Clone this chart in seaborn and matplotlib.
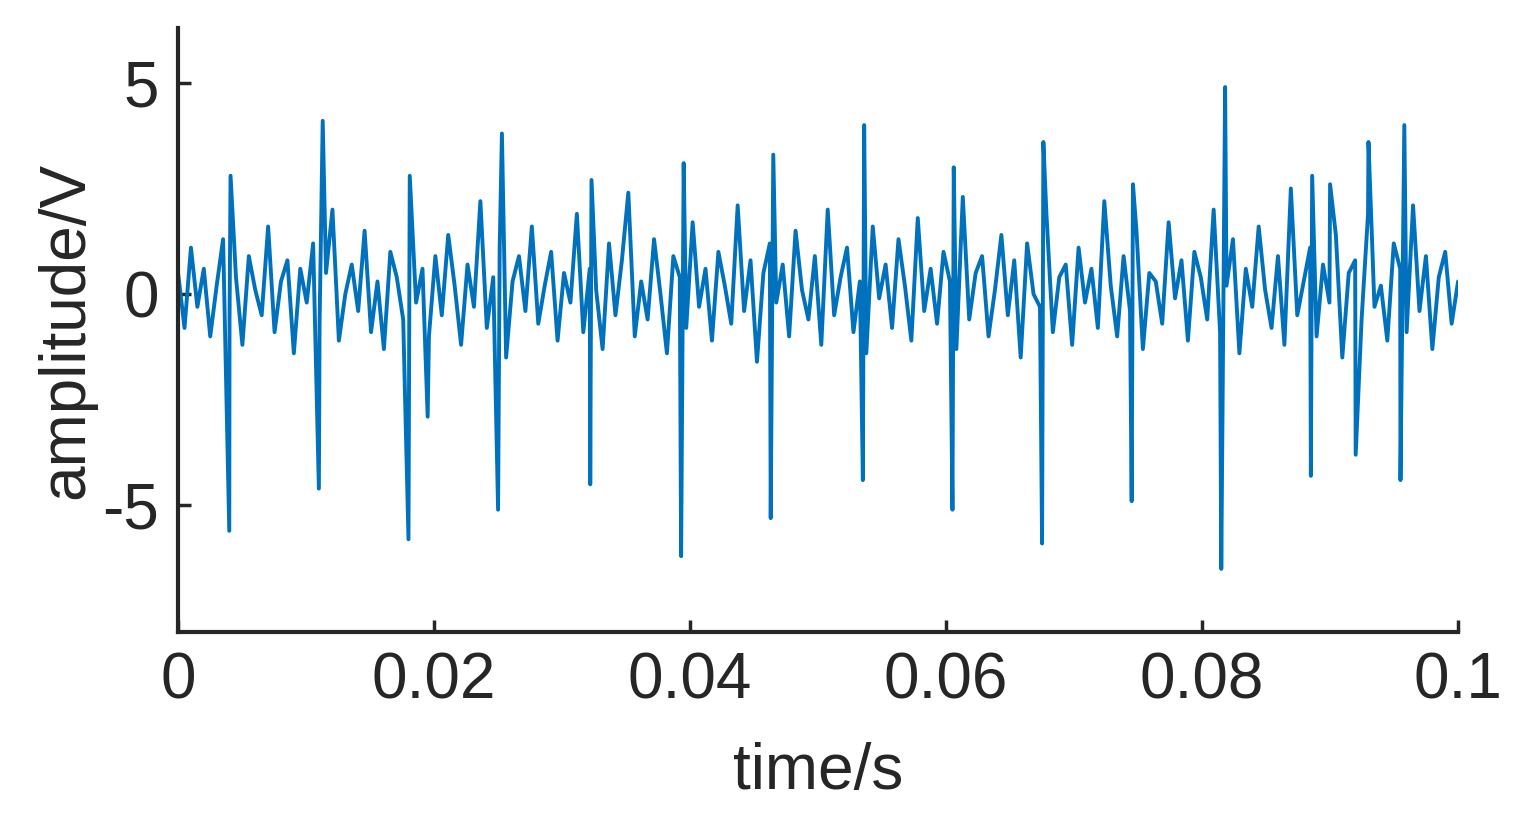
import matplotlib
matplotlib.use("Agg")
import matplotlib.pyplot as plt
import seaborn as sns
import numpy as np
import pandas as pd

# background vibration (hand-typed, evenly spaced over 0..0.1 s)
noise = [0.5, -0.8, 1.1, -0.3, 0.6, -1.0, 0.2, 1.3, -0.6, 0.4, -1.2, 0.9, 0.1, -0.5, 1.6, -0.9, 0.3, 0.8, -1.4, 0.6,
         -0.2, 1.2, -0.7, 0.5, 2.0, -1.1, 0.0, 0.7, -0.4, 1.5, -0.9, 0.3, -1.3, 1.0, 0.4, -0.6, 1.8, -0.2, 0.6, -1.0,
         0.9, -0.5, 1.4, 0.2, -1.2, 0.7, -0.3, 2.2, -0.8, 0.4, 1.1, -1.5, 0.3, 0.9, -0.4, 1.6, -0.7, 0.2, 1.0, -1.1,
         0.5, -0.2, 1.9, -0.9, 0.6, 0.1, -1.3, 1.2, -0.5, 0.8, 2.4, -1.0, 0.3, -0.6, 1.3, 0.0, -1.4, 0.9, 0.4, -0.8,
         1.7, -0.3, 0.6, -1.1, 1.0, 0.2, -0.7, 2.1, -0.4, 0.8, -1.6, 0.5, 1.2, -0.2, 0.7, -1.0, 1.5, 0.1, -0.6, 0.9,
         -1.2, 2.0, -0.5, 0.4, 1.1, -0.9, 0.3, -1.4, 1.6, -0.1, 0.7, -0.8, 1.3, 0.2, -1.1, 1.8, -0.4, 0.6, -0.7, 1.0,
         0.3, -1.3, 2.3, -0.6, 0.5, 0.9, -1.0, 0.1, 1.4, -0.5, 0.8, -1.5, 1.2, 0.0, -0.3, 1.9, -0.9, 0.4, 0.7, -1.2,
         1.1, -0.2, 0.6, -0.8, 2.2, 0.2, -1.0, 0.9, -0.4, 1.5, -1.3, 0.5, 0.3, -0.7, 1.7, -0.1, 0.8, -1.1, 1.0, 0.4,
         -0.6, 2.0, -0.9, 0.2, 1.3, -1.4, 0.6, -0.3, 1.6, 0.1, -0.8, 0.9, -1.2, 2.5, -0.5, 0.3, 1.1, -1.0, 0.7, -0.2,
         1.4, -1.5, 0.5, 0.8, -0.6, 1.9, -0.3, 0.2, -1.1, 1.2, 0.6, -0.9, 2.1, -0.4, 0.9, -1.3, 0.4, 1.0, -0.7, 0.3]
spike_t = [0.0040, 0.0041, 0.0110, 0.0113, 0.0180, 0.0181, 0.0195, 0.0250, 0.0253, 0.0322, 0.0323, 0.0393, 0.0395,
           0.0463, 0.0465, 0.0535, 0.0536, 0.0605, 0.0606, 0.0675, 0.0676, 0.0745, 0.0746, 0.0815, 0.0818, 0.0885,
           0.0886, 0.0900, 0.0920, 0.0930, 0.0955, 0.0958]
spike_v = [-5.6, 2.8, -4.6, 4.1, -5.8, 2.8, -2.9, -5.1, 3.8, -4.5, 2.7, -6.2, 3.1,
           -5.3, 3.3, -4.4, 4.0, -5.1, 3.0, -5.9, 3.6, -4.9, 2.6, -6.5, 4.9, -4.3,
           2.8, 2.6, -3.8, 3.6, -4.4, 4.0]

t_noise = np.linspace(0, 0.1, len(noise))
df = pd.DataFrame({"t": np.concatenate([t_noise, spike_t]),
                   "v": np.concatenate([noise, spike_v])}).sort_values("t")

sns.set_style("ticks")
plt.rcParams['font.family'] = ['Liberation Sans', 'DejaVu Sans']
plt.rcParams['axes.unicode_minus'] = False
fig = plt.figure(figsize=(15.22, 8.19), dpi=100)
ax = fig.add_axes([0.117, 0.228, 0.841, 0.738])
ax.plot(df["t"], df["v"], color="#0072BD", lw=2.8)
ax.set_xlim(0, 0.1)
ax.set_ylim(-8, 6.3)
ax.set_xticks([0, 0.02, 0.04, 0.06, 0.08, 0.1])
ax.set_xticklabels(["0", "0.02", "0.04", "0.06", "0.08", "0.1"])
ax.set_yticks([-5, 0, 5])
ax.tick_params(labelsize=46, width=2.5, length=9, direction="in", colors="#262626", pad=14)
for s in ["left", "bottom"]:
    ax.spines[s].set_linewidth(3)
    ax.spines[s].set_color("#262626")
sns.despine(ax=ax)
ax.set_xlabel("time/s", fontsize=46, color="#262626", labelpad=22)
ax.set_ylabel("amplitude/V", fontsize=46, color="#262626", labelpad=4)
fig.savefig("out.png", dpi=100)
